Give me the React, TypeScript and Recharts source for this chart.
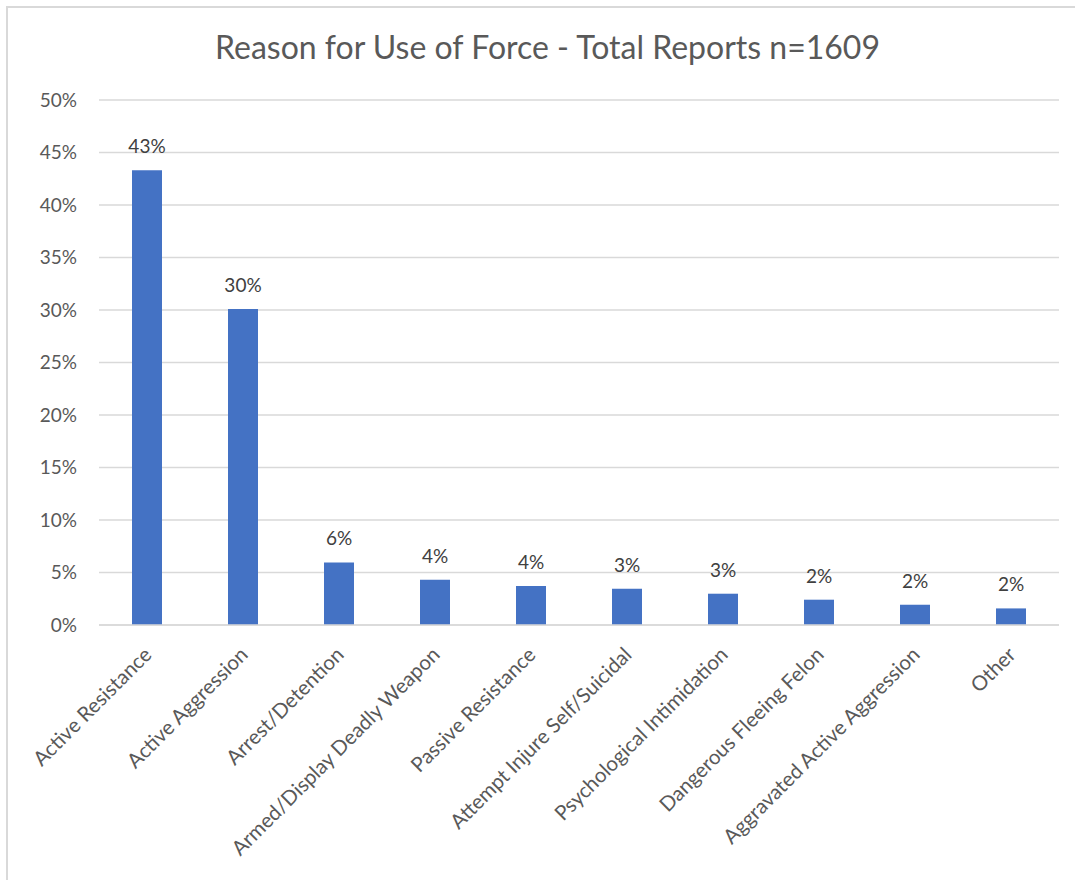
import React from 'react';
import { BarChart, Bar, XAxis, YAxis, CartesianGrid, LabelList } from 'recharts';

// Share of use-of-force reports by stated reason (fractions of 1609 reports)
const reasons = [
  'Active Resistance',
  'Active Aggression',
  'Arrest/Detention',
  'Armed/Display Deadly Weapon',
  'Passive Resistance',
  'Attempt Injure Self/Suicidal',
  'Psychological Intimidation',
  'Dangerous Fleeing Felon',
  'Aggravated Active Aggression',
  'Other',
];
const shares = [0.433, 0.301, 0.0596, 0.0431, 0.0371, 0.0345, 0.0298, 0.0241, 0.0193, 0.0158];
const yTicks = [0, 0.05, 0.1, 0.15, 0.2, 0.25, 0.3, 0.35, 0.4, 0.45, 0.5];

const data = reasons.map((reason, i) => ({ reason, share: shares[i] }));

const FONT = 'Lato, "Open Sans", sans-serif';
const pct = (v: number) => `${Math.round(v * 100)}%`;

const CategoryTick = (props: any) => {
  const { x, y, payload } = props;
  return (
    <g transform={`translate(${x + 6},${y + 31})`}>
      <text
        textAnchor="end"
        transform="rotate(-45)"
        fill="#595959"
        fontSize={20.5}
        fontFamily={FONT}
      >
        {payload.value}
      </text>
    </g>
  );
};

export default function App() {
  return (
    <div
      style={{
        position: 'absolute',
        left: 0,
        top: 0,
        width: 1075,
        height: 880,
        overflow: 'hidden',
        background: '#ffffff',
        fontFamily: FONT,
      }}
    >
      <div
        style={{
          position: 'absolute',
          left: 6,
          top: 6,
          width: 1200,
          height: 1000,
          borderTop: '2px solid #d9d9d9',
          borderLeft: '2px solid #d9d9d9',
          boxSizing: 'border-box',
        }}
      />
      <div
        style={{
          position: 'absolute',
          left: 0,
          top: 25,
          width: 1095,
          textAlign: 'center',
          fontSize: 32,
          color: '#595959',
          fontFamily: FONT,
          lineHeight: '44px',
        }}
      >
        Reason for Use of Force - Total Reports n=1609
      </div>
      <div style={{ position: 'absolute', left: 0, top: 0 }}>
        <BarChart
          width={1075}
          height={880}
          data={data}
          margin={{ top: 100, right: 16, left: 0, bottom: 0 }}
        >
          <CartesianGrid vertical={false} stroke="#d9d9d9" strokeWidth={1.5} />
          <XAxis
            dataKey="reason"
            interval={0}
            height={255}
            tickLine={false}
            tickSize={0}
            tickMargin={0}
            axisLine={{ stroke: '#d9d9d9', strokeWidth: 1.5 }}
            tick={<CategoryTick />}
          />
          <YAxis
            domain={[0, 0.5]}
            ticks={yTicks}
            width={99}
            axisLine={false}
            tickLine={false}
            tickSize={0}
            tickMargin={22}
            tickFormatter={pct}
            tick={{ fill: '#595959', fontSize: 19, fontFamily: FONT }}
          />
          <Bar dataKey="share" fill="#4472c4" barSize={30} isAnimationActive={false}>
            <LabelList
              dataKey="share"
              position="top"
              offset={17}
              formatter={(v: any) => pct(Number(v))}
              fill="#404040"
              fontSize={19}
              fontFamily={FONT}
            />
          </Bar>
        </BarChart>
      </div>
    </div>
  );
}
